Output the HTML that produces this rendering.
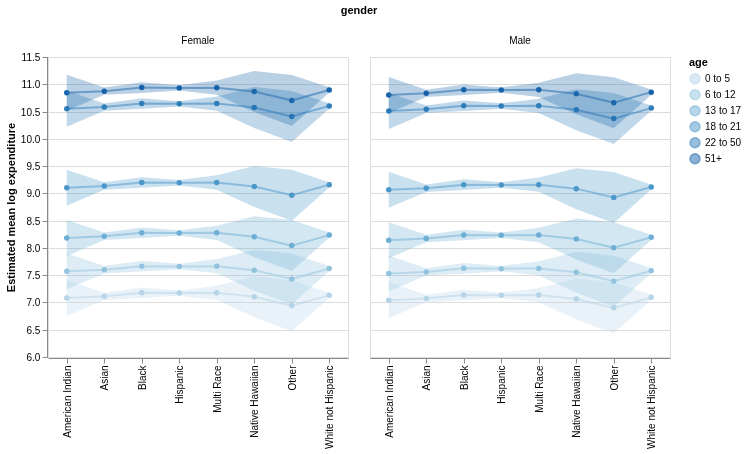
<!DOCTYPE html>
<html lang="en"><head><meta charset="utf-8"><title>gender</title>
<style>html,body{margin:0;padding:0;background:#fff;}svg{display:block;}</style></head>
<body>
<svg width="747" height="454" viewBox="0 0 747 454" font-family="'Liberation Sans', Arial, Helvetica, sans-serif">
<rect width="747" height="454" fill="#fff"/>
<text x="359" y="14" text-anchor="middle" font-size="11" font-weight="bold" fill="#000">gender</text>
<g>
<rect x="48.5" y="57.5" width="300" height="300" fill="none" stroke="#ddd"/>
<line x1="48" x2="348" y1="57.5" y2="57.5" stroke="#ddd"/>
<line x1="48" x2="348" y1="84.5" y2="84.5" stroke="#ddd"/>
<line x1="48" x2="348" y1="112.5" y2="112.5" stroke="#ddd"/>
<line x1="48" x2="348" y1="139.5" y2="139.5" stroke="#ddd"/>
<line x1="48" x2="348" y1="166.5" y2="166.5" stroke="#ddd"/>
<line x1="48" x2="348" y1="193.5" y2="193.5" stroke="#ddd"/>
<line x1="48" x2="348" y1="221.5" y2="221.5" stroke="#ddd"/>
<line x1="48" x2="348" y1="248.5" y2="248.5" stroke="#ddd"/>
<line x1="48" x2="348" y1="275.5" y2="275.5" stroke="#ddd"/>
<line x1="48" x2="348" y1="302.5" y2="302.5" stroke="#ddd"/>
<line x1="48" x2="348" y1="330.5" y2="330.5" stroke="#ddd"/>
<line x1="48" x2="348" y1="357.5" y2="357.5" stroke="#ddd"/>
<text x="198" y="44" text-anchor="middle" font-size="10" fill="#000">Female</text>
<polyline points="66.75,298 104.25,296.35 141.75,292.8 179.25,293.1 216.75,292.85 254.25,296.8 291.75,305.65 329.25,295.15" fill="none" stroke="#b5d4e9" stroke-width="2" stroke-opacity="0.5" stroke-linejoin="miter"/>
<polyline points="66.75,271.35 104.25,269.7 141.75,266.15 179.25,266.45 216.75,266.2 254.25,270.15 291.75,279 329.25,268.5" fill="none" stroke="#93c3df" stroke-width="2" stroke-opacity="0.5" stroke-linejoin="miter"/>
<polyline points="66.75,237.95 104.25,236.3 141.75,232.75 179.25,233.05 216.75,232.8 254.25,236.75 291.75,245.6 329.25,235.1" fill="none" stroke="#6daed5" stroke-width="2" stroke-opacity="0.5" stroke-linejoin="miter"/>
<polyline points="66.75,187.65 104.25,186 141.75,182.45 179.25,182.75 216.75,182.5 254.25,186.45 291.75,195.3 329.25,184.8" fill="none" stroke="#4b97c9" stroke-width="2" stroke-opacity="0.5" stroke-linejoin="miter"/>
<polyline points="66.75,108.75 104.25,107.1 141.75,103.55 179.25,103.85 216.75,103.6 254.25,107.55 291.75,116.4 329.25,105.9" fill="none" stroke="#2f7ebb" stroke-width="2" stroke-opacity="0.5" stroke-linejoin="miter"/>
<polyline points="66.75,92.8 104.25,91.15 141.75,87.6 179.25,87.9 216.75,87.65 254.25,91.6 291.75,100.45 329.25,89.95" fill="none" stroke="#1864aa" stroke-width="2" stroke-opacity="0.5" stroke-linejoin="miter"/>
<circle cx="66.75" cy="298" r="2.74" fill="#b5d4e9"/>
<circle cx="104.25" cy="296.35" r="2.74" fill="#b5d4e9"/>
<circle cx="141.75" cy="292.8" r="2.74" fill="#b5d4e9"/>
<circle cx="179.25" cy="293.1" r="2.74" fill="#b5d4e9"/>
<circle cx="216.75" cy="292.85" r="2.74" fill="#b5d4e9"/>
<circle cx="254.25" cy="296.8" r="2.74" fill="#b5d4e9"/>
<circle cx="291.75" cy="305.65" r="2.74" fill="#b5d4e9"/>
<circle cx="329.25" cy="295.15" r="2.74" fill="#b5d4e9"/>
<circle cx="66.75" cy="271.35" r="2.74" fill="#93c3df"/>
<circle cx="104.25" cy="269.7" r="2.74" fill="#93c3df"/>
<circle cx="141.75" cy="266.15" r="2.74" fill="#93c3df"/>
<circle cx="179.25" cy="266.45" r="2.74" fill="#93c3df"/>
<circle cx="216.75" cy="266.2" r="2.74" fill="#93c3df"/>
<circle cx="254.25" cy="270.15" r="2.74" fill="#93c3df"/>
<circle cx="291.75" cy="279" r="2.74" fill="#93c3df"/>
<circle cx="329.25" cy="268.5" r="2.74" fill="#93c3df"/>
<circle cx="66.75" cy="237.95" r="2.74" fill="#6daed5"/>
<circle cx="104.25" cy="236.3" r="2.74" fill="#6daed5"/>
<circle cx="141.75" cy="232.75" r="2.74" fill="#6daed5"/>
<circle cx="179.25" cy="233.05" r="2.74" fill="#6daed5"/>
<circle cx="216.75" cy="232.8" r="2.74" fill="#6daed5"/>
<circle cx="254.25" cy="236.75" r="2.74" fill="#6daed5"/>
<circle cx="291.75" cy="245.6" r="2.74" fill="#6daed5"/>
<circle cx="329.25" cy="235.1" r="2.74" fill="#6daed5"/>
<circle cx="66.75" cy="187.65" r="2.74" fill="#4b97c9"/>
<circle cx="104.25" cy="186" r="2.74" fill="#4b97c9"/>
<circle cx="141.75" cy="182.45" r="2.74" fill="#4b97c9"/>
<circle cx="179.25" cy="182.75" r="2.74" fill="#4b97c9"/>
<circle cx="216.75" cy="182.5" r="2.74" fill="#4b97c9"/>
<circle cx="254.25" cy="186.45" r="2.74" fill="#4b97c9"/>
<circle cx="291.75" cy="195.3" r="2.74" fill="#4b97c9"/>
<circle cx="329.25" cy="184.8" r="2.74" fill="#4b97c9"/>
<circle cx="66.75" cy="108.75" r="2.74" fill="#2f7ebb"/>
<circle cx="104.25" cy="107.1" r="2.74" fill="#2f7ebb"/>
<circle cx="141.75" cy="103.55" r="2.74" fill="#2f7ebb"/>
<circle cx="179.25" cy="103.85" r="2.74" fill="#2f7ebb"/>
<circle cx="216.75" cy="103.6" r="2.74" fill="#2f7ebb"/>
<circle cx="254.25" cy="107.55" r="2.74" fill="#2f7ebb"/>
<circle cx="291.75" cy="116.4" r="2.74" fill="#2f7ebb"/>
<circle cx="329.25" cy="105.9" r="2.74" fill="#2f7ebb"/>
<circle cx="66.75" cy="92.8" r="2.74" fill="#1864aa"/>
<circle cx="104.25" cy="91.15" r="2.74" fill="#1864aa"/>
<circle cx="141.75" cy="87.6" r="2.74" fill="#1864aa"/>
<circle cx="179.25" cy="87.9" r="2.74" fill="#1864aa"/>
<circle cx="216.75" cy="87.65" r="2.74" fill="#1864aa"/>
<circle cx="254.25" cy="91.6" r="2.74" fill="#1864aa"/>
<circle cx="291.75" cy="100.45" r="2.74" fill="#1864aa"/>
<circle cx="329.25" cy="89.95" r="2.74" fill="#1864aa"/>
<polygon points="66.75,280 104.25,292.65 141.75,287.5 179.25,290.4 216.75,285.7 254.25,276.3 291.75,280.15 329.25,292.55 329.25,297.75 291.75,331.15 254.25,317.3 216.75,300 179.25,295.8 141.75,298.1 104.25,300.05 66.75,316" fill="#b5d4e9" fill-opacity="0.3"/>
<polygon points="66.75,253.35 104.25,266 141.75,260.85 179.25,263.75 216.75,259.05 254.25,249.65 291.75,253.5 329.25,265.9 329.25,271.1 291.75,304.5 254.25,290.65 216.75,273.35 179.25,269.15 141.75,271.45 104.25,273.4 66.75,289.35" fill="#93c3df" fill-opacity="0.3"/>
<polygon points="66.75,219.95 104.25,232.6 141.75,227.45 179.25,230.35 216.75,225.65 254.25,216.25 291.75,220.1 329.25,232.5 329.25,237.7 291.75,271.1 254.25,257.25 216.75,239.95 179.25,235.75 141.75,238.05 104.25,240 66.75,255.95" fill="#6daed5" fill-opacity="0.3"/>
<polygon points="66.75,169.65 104.25,182.3 141.75,177.15 179.25,180.05 216.75,175.35 254.25,165.95 291.75,169.8 329.25,182.2 329.25,187.4 291.75,220.8 254.25,206.95 216.75,189.65 179.25,185.45 141.75,187.75 104.25,189.7 66.75,205.65" fill="#4b97c9" fill-opacity="0.3"/>
<polygon points="66.75,90.75 104.25,103.4 141.75,98.25 179.25,101.15 216.75,96.45 254.25,87.05 291.75,90.9 329.25,103.3 329.25,108.5 291.75,141.9 254.25,128.05 216.75,110.75 179.25,106.55 141.75,108.85 104.25,110.8 66.75,126.75" fill="#2f7ebb" fill-opacity="0.3"/>
<polygon points="66.75,74.8 104.25,87.45 141.75,82.3 179.25,85.2 216.75,80.5 254.25,71.1 291.75,74.95 329.25,87.35 329.25,92.55 291.75,125.95 254.25,112.1 216.75,94.8 179.25,90.6 141.75,92.9 104.25,94.85 66.75,110.8" fill="#1864aa" fill-opacity="0.3"/>
<line x1="48.5" x2="348.5" y1="358.5" y2="358.5" stroke="#888"/>
<line x1="67.5" x2="67.5" y1="358.5" y2="363.5" stroke="#888"/>
<text transform="translate(70.7,365.5) rotate(-90)" text-anchor="end" font-size="10" fill="#000">American Indian</text>
<line x1="104.5" x2="104.5" y1="358.5" y2="363.5" stroke="#888"/>
<text transform="translate(107.7,365.5) rotate(-90)" text-anchor="end" font-size="10" fill="#000">Asian</text>
<line x1="142.5" x2="142.5" y1="358.5" y2="363.5" stroke="#888"/>
<text transform="translate(145.7,365.5) rotate(-90)" text-anchor="end" font-size="10" fill="#000">Black</text>
<line x1="179.5" x2="179.5" y1="358.5" y2="363.5" stroke="#888"/>
<text transform="translate(182.7,365.5) rotate(-90)" text-anchor="end" font-size="10" fill="#000">Hispanic</text>
<line x1="217.5" x2="217.5" y1="358.5" y2="363.5" stroke="#888"/>
<text transform="translate(220.7,365.5) rotate(-90)" text-anchor="end" font-size="10" fill="#000">Multi Race</text>
<line x1="254.5" x2="254.5" y1="358.5" y2="363.5" stroke="#888"/>
<text transform="translate(257.7,365.5) rotate(-90)" text-anchor="end" font-size="10" fill="#000">Native Hawaiian</text>
<line x1="292.5" x2="292.5" y1="358.5" y2="363.5" stroke="#888"/>
<text transform="translate(295.7,365.5) rotate(-90)" text-anchor="end" font-size="10" fill="#000">Other</text>
<line x1="329.5" x2="329.5" y1="358.5" y2="363.5" stroke="#888"/>
<text transform="translate(332.7,365.5) rotate(-90)" text-anchor="end" font-size="10" fill="#000">White not Hispanic</text>
</g>
<g>
<rect x="370.5" y="57.5" width="300" height="300" fill="none" stroke="#ddd"/>
<line x1="370" x2="670" y1="57.5" y2="57.5" stroke="#ddd"/>
<line x1="370" x2="670" y1="84.5" y2="84.5" stroke="#ddd"/>
<line x1="370" x2="670" y1="112.5" y2="112.5" stroke="#ddd"/>
<line x1="370" x2="670" y1="139.5" y2="139.5" stroke="#ddd"/>
<line x1="370" x2="670" y1="166.5" y2="166.5" stroke="#ddd"/>
<line x1="370" x2="670" y1="193.5" y2="193.5" stroke="#ddd"/>
<line x1="370" x2="670" y1="221.5" y2="221.5" stroke="#ddd"/>
<line x1="370" x2="670" y1="248.5" y2="248.5" stroke="#ddd"/>
<line x1="370" x2="670" y1="275.5" y2="275.5" stroke="#ddd"/>
<line x1="370" x2="670" y1="302.5" y2="302.5" stroke="#ddd"/>
<line x1="370" x2="670" y1="330.5" y2="330.5" stroke="#ddd"/>
<line x1="370" x2="670" y1="357.5" y2="357.5" stroke="#ddd"/>
<text x="520" y="44" text-anchor="middle" font-size="10" fill="#000">Male</text>
<polyline points="388.75,300.2 426.25,298.55 463.75,295 501.25,295.3 538.75,295.05 576.25,299 613.75,307.85 651.25,297.35" fill="none" stroke="#b5d4e9" stroke-width="2" stroke-opacity="0.5" stroke-linejoin="miter"/>
<polyline points="388.75,273.55 426.25,271.9 463.75,268.35 501.25,268.65 538.75,268.4 576.25,272.35 613.75,281.2 651.25,270.7" fill="none" stroke="#93c3df" stroke-width="2" stroke-opacity="0.5" stroke-linejoin="miter"/>
<polyline points="388.75,240.15 426.25,238.5 463.75,234.95 501.25,235.25 538.75,235 576.25,238.95 613.75,247.8 651.25,237.3" fill="none" stroke="#6daed5" stroke-width="2" stroke-opacity="0.5" stroke-linejoin="miter"/>
<polyline points="388.75,189.85 426.25,188.2 463.75,184.65 501.25,184.95 538.75,184.7 576.25,188.65 613.75,197.5 651.25,187" fill="none" stroke="#4b97c9" stroke-width="2" stroke-opacity="0.5" stroke-linejoin="miter"/>
<polyline points="388.75,110.95 426.25,109.3 463.75,105.75 501.25,106.05 538.75,105.8 576.25,109.75 613.75,118.6 651.25,108.1" fill="none" stroke="#2f7ebb" stroke-width="2" stroke-opacity="0.5" stroke-linejoin="miter"/>
<polyline points="388.75,95 426.25,93.35 463.75,89.8 501.25,90.1 538.75,89.85 576.25,93.8 613.75,102.65 651.25,92.15" fill="none" stroke="#1864aa" stroke-width="2" stroke-opacity="0.5" stroke-linejoin="miter"/>
<circle cx="388.75" cy="300.2" r="2.74" fill="#b5d4e9"/>
<circle cx="426.25" cy="298.55" r="2.74" fill="#b5d4e9"/>
<circle cx="463.75" cy="295" r="2.74" fill="#b5d4e9"/>
<circle cx="501.25" cy="295.3" r="2.74" fill="#b5d4e9"/>
<circle cx="538.75" cy="295.05" r="2.74" fill="#b5d4e9"/>
<circle cx="576.25" cy="299" r="2.74" fill="#b5d4e9"/>
<circle cx="613.75" cy="307.85" r="2.74" fill="#b5d4e9"/>
<circle cx="651.25" cy="297.35" r="2.74" fill="#b5d4e9"/>
<circle cx="388.75" cy="273.55" r="2.74" fill="#93c3df"/>
<circle cx="426.25" cy="271.9" r="2.74" fill="#93c3df"/>
<circle cx="463.75" cy="268.35" r="2.74" fill="#93c3df"/>
<circle cx="501.25" cy="268.65" r="2.74" fill="#93c3df"/>
<circle cx="538.75" cy="268.4" r="2.74" fill="#93c3df"/>
<circle cx="576.25" cy="272.35" r="2.74" fill="#93c3df"/>
<circle cx="613.75" cy="281.2" r="2.74" fill="#93c3df"/>
<circle cx="651.25" cy="270.7" r="2.74" fill="#93c3df"/>
<circle cx="388.75" cy="240.15" r="2.74" fill="#6daed5"/>
<circle cx="426.25" cy="238.5" r="2.74" fill="#6daed5"/>
<circle cx="463.75" cy="234.95" r="2.74" fill="#6daed5"/>
<circle cx="501.25" cy="235.25" r="2.74" fill="#6daed5"/>
<circle cx="538.75" cy="235" r="2.74" fill="#6daed5"/>
<circle cx="576.25" cy="238.95" r="2.74" fill="#6daed5"/>
<circle cx="613.75" cy="247.8" r="2.74" fill="#6daed5"/>
<circle cx="651.25" cy="237.3" r="2.74" fill="#6daed5"/>
<circle cx="388.75" cy="189.85" r="2.74" fill="#4b97c9"/>
<circle cx="426.25" cy="188.2" r="2.74" fill="#4b97c9"/>
<circle cx="463.75" cy="184.65" r="2.74" fill="#4b97c9"/>
<circle cx="501.25" cy="184.95" r="2.74" fill="#4b97c9"/>
<circle cx="538.75" cy="184.7" r="2.74" fill="#4b97c9"/>
<circle cx="576.25" cy="188.65" r="2.74" fill="#4b97c9"/>
<circle cx="613.75" cy="197.5" r="2.74" fill="#4b97c9"/>
<circle cx="651.25" cy="187" r="2.74" fill="#4b97c9"/>
<circle cx="388.75" cy="110.95" r="2.74" fill="#2f7ebb"/>
<circle cx="426.25" cy="109.3" r="2.74" fill="#2f7ebb"/>
<circle cx="463.75" cy="105.75" r="2.74" fill="#2f7ebb"/>
<circle cx="501.25" cy="106.05" r="2.74" fill="#2f7ebb"/>
<circle cx="538.75" cy="105.8" r="2.74" fill="#2f7ebb"/>
<circle cx="576.25" cy="109.75" r="2.74" fill="#2f7ebb"/>
<circle cx="613.75" cy="118.6" r="2.74" fill="#2f7ebb"/>
<circle cx="651.25" cy="108.1" r="2.74" fill="#2f7ebb"/>
<circle cx="388.75" cy="95" r="2.74" fill="#1864aa"/>
<circle cx="426.25" cy="93.35" r="2.74" fill="#1864aa"/>
<circle cx="463.75" cy="89.8" r="2.74" fill="#1864aa"/>
<circle cx="501.25" cy="90.1" r="2.74" fill="#1864aa"/>
<circle cx="538.75" cy="89.85" r="2.74" fill="#1864aa"/>
<circle cx="576.25" cy="93.8" r="2.74" fill="#1864aa"/>
<circle cx="613.75" cy="102.65" r="2.74" fill="#1864aa"/>
<circle cx="651.25" cy="92.15" r="2.74" fill="#1864aa"/>
<polygon points="388.75,282.2 426.25,294.85 463.75,289.7 501.25,292.6 538.75,287.9 576.25,278.5 613.75,282.35 651.25,294.75 651.25,299.95 613.75,333.35 576.25,319.5 538.75,302.2 501.25,298 463.75,300.3 426.25,302.25 388.75,318.2" fill="#b5d4e9" fill-opacity="0.3"/>
<polygon points="388.75,255.55 426.25,268.2 463.75,263.05 501.25,265.95 538.75,261.25 576.25,251.85 613.75,255.7 651.25,268.1 651.25,273.3 613.75,306.7 576.25,292.85 538.75,275.55 501.25,271.35 463.75,273.65 426.25,275.6 388.75,291.55" fill="#93c3df" fill-opacity="0.3"/>
<polygon points="388.75,222.15 426.25,234.8 463.75,229.65 501.25,232.55 538.75,227.85 576.25,218.45 613.75,222.3 651.25,234.7 651.25,239.9 613.75,273.3 576.25,259.45 538.75,242.15 501.25,237.95 463.75,240.25 426.25,242.2 388.75,258.15" fill="#6daed5" fill-opacity="0.3"/>
<polygon points="388.75,171.85 426.25,184.5 463.75,179.35 501.25,182.25 538.75,177.55 576.25,168.15 613.75,172 651.25,184.4 651.25,189.6 613.75,223 576.25,209.15 538.75,191.85 501.25,187.65 463.75,189.95 426.25,191.9 388.75,207.85" fill="#4b97c9" fill-opacity="0.3"/>
<polygon points="388.75,92.95 426.25,105.6 463.75,100.45 501.25,103.35 538.75,98.65 576.25,89.25 613.75,93.1 651.25,105.5 651.25,110.7 613.75,144.1 576.25,130.25 538.75,112.95 501.25,108.75 463.75,111.05 426.25,113 388.75,128.95" fill="#2f7ebb" fill-opacity="0.3"/>
<polygon points="388.75,77 426.25,89.65 463.75,84.5 501.25,87.4 538.75,82.7 576.25,73.3 613.75,77.15 651.25,89.55 651.25,94.75 613.75,128.15 576.25,114.3 538.75,97 501.25,92.8 463.75,95.1 426.25,97.05 388.75,113" fill="#1864aa" fill-opacity="0.3"/>
<line x1="370.5" x2="670.5" y1="358.5" y2="358.5" stroke="#888"/>
<line x1="389.5" x2="389.5" y1="358.5" y2="363.5" stroke="#888"/>
<text transform="translate(392.7,365.5) rotate(-90)" text-anchor="end" font-size="10" fill="#000">American Indian</text>
<line x1="426.5" x2="426.5" y1="358.5" y2="363.5" stroke="#888"/>
<text transform="translate(429.7,365.5) rotate(-90)" text-anchor="end" font-size="10" fill="#000">Asian</text>
<line x1="464.5" x2="464.5" y1="358.5" y2="363.5" stroke="#888"/>
<text transform="translate(467.7,365.5) rotate(-90)" text-anchor="end" font-size="10" fill="#000">Black</text>
<line x1="501.5" x2="501.5" y1="358.5" y2="363.5" stroke="#888"/>
<text transform="translate(504.7,365.5) rotate(-90)" text-anchor="end" font-size="10" fill="#000">Hispanic</text>
<line x1="539.5" x2="539.5" y1="358.5" y2="363.5" stroke="#888"/>
<text transform="translate(542.7,365.5) rotate(-90)" text-anchor="end" font-size="10" fill="#000">Multi Race</text>
<line x1="576.5" x2="576.5" y1="358.5" y2="363.5" stroke="#888"/>
<text transform="translate(579.7,365.5) rotate(-90)" text-anchor="end" font-size="10" fill="#000">Native Hawaiian</text>
<line x1="614.5" x2="614.5" y1="358.5" y2="363.5" stroke="#888"/>
<text transform="translate(617.7,365.5) rotate(-90)" text-anchor="end" font-size="10" fill="#000">Other</text>
<line x1="651.5" x2="651.5" y1="358.5" y2="363.5" stroke="#888"/>
<text transform="translate(654.7,365.5) rotate(-90)" text-anchor="end" font-size="10" fill="#000">White not Hispanic</text>
</g>
<line x1="47.5" x2="47.5" y1="57" y2="358" stroke="#888"/>
<line x1="42.5" x2="47.5" y1="57.5" y2="57.5" stroke="#888"/>
<text x="40.3" y="60.9" text-anchor="end" font-size="10" fill="#000">11.5</text>
<line x1="42.5" x2="47.5" y1="84.5" y2="84.5" stroke="#888"/>
<text x="40.3" y="87.9" text-anchor="end" font-size="10" fill="#000">11.0</text>
<line x1="42.5" x2="47.5" y1="112.5" y2="112.5" stroke="#888"/>
<text x="40.3" y="115.9" text-anchor="end" font-size="10" fill="#000">10.5</text>
<line x1="42.5" x2="47.5" y1="139.5" y2="139.5" stroke="#888"/>
<text x="40.3" y="142.9" text-anchor="end" font-size="10" fill="#000">10.0</text>
<line x1="42.5" x2="47.5" y1="166.5" y2="166.5" stroke="#888"/>
<text x="40.3" y="169.9" text-anchor="end" font-size="10" fill="#000">9.5</text>
<line x1="42.5" x2="47.5" y1="193.5" y2="193.5" stroke="#888"/>
<text x="40.3" y="196.9" text-anchor="end" font-size="10" fill="#000">9.0</text>
<line x1="42.5" x2="47.5" y1="221.5" y2="221.5" stroke="#888"/>
<text x="40.3" y="224.9" text-anchor="end" font-size="10" fill="#000">8.5</text>
<line x1="42.5" x2="47.5" y1="248.5" y2="248.5" stroke="#888"/>
<text x="40.3" y="251.9" text-anchor="end" font-size="10" fill="#000">8.0</text>
<line x1="42.5" x2="47.5" y1="275.5" y2="275.5" stroke="#888"/>
<text x="40.3" y="278.9" text-anchor="end" font-size="10" fill="#000">7.5</text>
<line x1="42.5" x2="47.5" y1="302.5" y2="302.5" stroke="#888"/>
<text x="40.3" y="305.9" text-anchor="end" font-size="10" fill="#000">7.0</text>
<line x1="42.5" x2="47.5" y1="330.5" y2="330.5" stroke="#888"/>
<text x="40.3" y="333.9" text-anchor="end" font-size="10" fill="#000">6.5</text>
<line x1="42.5" x2="47.5" y1="357.5" y2="357.5" stroke="#888"/>
<text x="40.3" y="360.9" text-anchor="end" font-size="10" fill="#000">6.0</text>
<text transform="translate(15,207.5) rotate(-90)" text-anchor="middle" font-size="11" font-weight="bold" fill="#000">Estimated mean log expenditure</text>
<text x="689" y="65.5" font-size="11" font-weight="bold" fill="#000">age</text>
<circle cx="695" cy="78.8" r="5" fill="#b5d4e9" fill-opacity="0.5" stroke="#b5d4e9" stroke-opacity="0.5" stroke-width="1.5"/>
<text x="705" y="81.89999999999999" font-size="10" fill="#000">0 to 5</text>
<circle cx="695" cy="94.8" r="5" fill="#93c3df" fill-opacity="0.5" stroke="#93c3df" stroke-opacity="0.5" stroke-width="1.5"/>
<text x="705" y="97.89999999999999" font-size="10" fill="#000">6 to 12</text>
<circle cx="695" cy="110.8" r="5" fill="#6daed5" fill-opacity="0.5" stroke="#6daed5" stroke-opacity="0.5" stroke-width="1.5"/>
<text x="705" y="113.89999999999999" font-size="10" fill="#000">13 to 17</text>
<circle cx="695" cy="126.8" r="5" fill="#4b97c9" fill-opacity="0.5" stroke="#4b97c9" stroke-opacity="0.5" stroke-width="1.5"/>
<text x="705" y="129.9" font-size="10" fill="#000">18 to 21</text>
<circle cx="695" cy="142.8" r="5" fill="#2f7ebb" fill-opacity="0.5" stroke="#2f7ebb" stroke-opacity="0.5" stroke-width="1.5"/>
<text x="705" y="145.9" font-size="10" fill="#000">22 to 50</text>
<circle cx="695" cy="158.8" r="5" fill="#1864aa" fill-opacity="0.5" stroke="#1864aa" stroke-opacity="0.5" stroke-width="1.5"/>
<text x="705" y="161.9" font-size="10" fill="#000">51+</text>
</svg>
</body></html>
